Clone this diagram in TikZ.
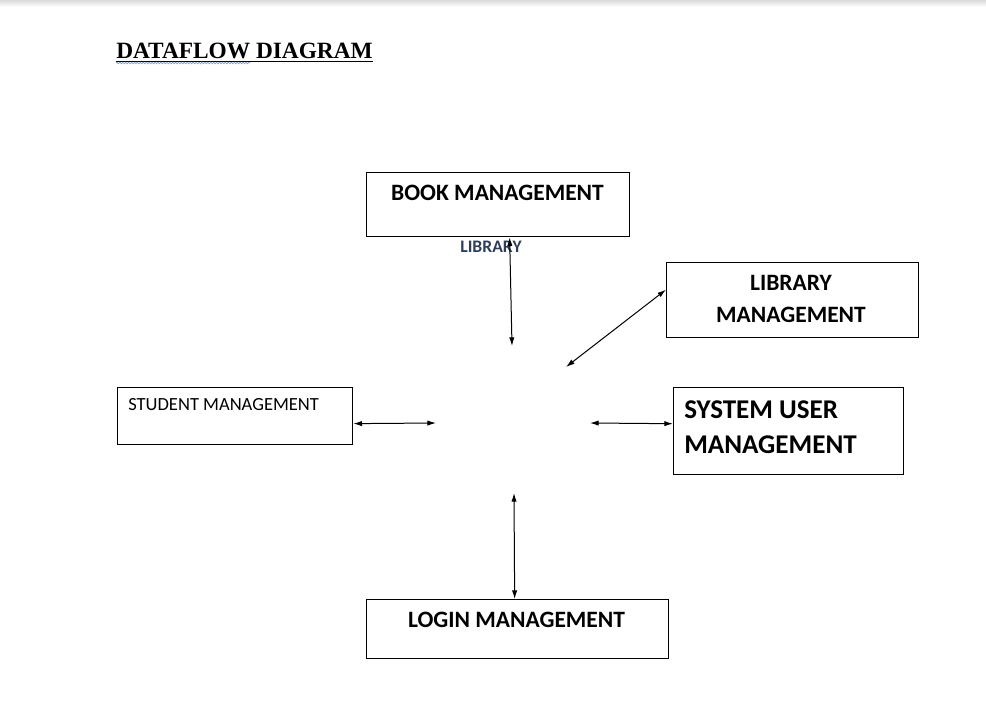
\documentclass[tikz,border=0pt]{standalone}
\usepackage{xcolor}
\usepackage{fontspec}
\usepackage{tikz}
\usetikzlibrary{arrows.meta, positioning, calc, decorations.pathmorphing}
\setmainfont{Liberation Serif}
\newfontfamily\boxfont{Carlito}
\definecolor{labelblue}{HTML}{2E3E5C}
\definecolor{spellblue}{HTML}{7C9ED8}

\begin{document}
\begin{tikzpicture}[x=0.75pt, y=-0.75pt,
  procbox/.style={draw, line width=1pt, rectangle, inner sep=0pt, anchor=north west},
  boxtext/.style={inner sep=0pt, font=\boxfont\bfseries\fontsize{17.6}{17.6}\selectfont},
  flow/.style={line width=0.75pt, {Latex[length=6.5pt,width=4pt]}-{Latex[length=6.5pt,width=4pt]}}]
  \useasboundingbox (0,0) rectangle (986,703);
  \fill[white] (0,0) rectangle (986,703);
  \shade[top color=black!14, bottom color=white] (0,0) rectangle (986,7);

  % Title
  \node[inner sep=0pt, anchor=base west, font=\bfseries\fontsize{17.5}{17.5}\selectfont] (title) at (116,58) {DATAFLOW DIAGRAM};
  \draw[line width=1.1pt] ([yshift=-2.5pt]title.base west) -- ([yshift=-2.5pt]title.base east);
  \draw[spellblue, line width=0.5pt, decorate, decoration={snake, amplitude=0.6pt, segment length=2.2pt}] (116,63) -- (250,63);

  % Boxes
  \node[procbox, minimum width=197.25pt, minimum height=48pt] (book) at (366,172) {};
  \node[procbox, minimum width=189pt, minimum height=56.25pt] (libmgmt) at (666,262) {};
  \node[procbox, minimum width=172.5pt, minimum height=65.25pt] (sysuser) at (673,387) {};
  \node[procbox, minimum width=176.25pt, minimum height=42.75pt] (student) at (117,387) {};
  \node[procbox, minimum width=226.5pt, minimum height=44.25pt] (login) at (366,599) {};

  % Box texts
  \node[boxtext, anchor=base] (booktxt) at (497.5,200) {BOOK MANAGEMENT};
  \node[boxtext, anchor=base] (libtxta) at (791,290) {LIBRARY};
  \node[boxtext, anchor=base] (libtxtb) at (791,322) {MANAGEMENT};
  \node[boxtext, anchor=base west, font=\boxfont\bfseries\fontsize{20.3}{20.3}\selectfont] (systxta) at (684,418) {SYSTEM USER};
  \node[boxtext, anchor=base west, font=\boxfont\bfseries\fontsize{20.3}{20.3}\selectfont] (systxtb) at (684,453) {MANAGEMENT};
  \node[boxtext, anchor=base west, font=\boxfont\fontsize{13.9}{13.9}\selectfont] (studtxt) at (128,410) {STUDENT MANAGEMENT};
  \node[boxtext, anchor=base] (logintxt) at (516.5,627) {LOGIN MANAGEMENT};
  \node[boxtext, anchor=base, text=labelblue, font=\boxfont\bfseries\fontsize{13.2}{13.2}\selectfont] (liblabel) at (491,252) {LIBRARY};

  % Free ends of the flows
  \coordinate (fbook) at (512,346);
  \coordinate (flib) at (566,367);
  \coordinate (fsys) at (590,423);
  \coordinate (fstud) at (436,423);
  \coordinate (flogin) at (514,493);

  % Arrows
  \draw[flow] ([xshift=8.6pt]book.south) -- (fbook);
  \draw[flow] ([yshift=7.9pt]libmgmt.west) -- (flib);
  \draw[flow] ([yshift=5.6pt]sysuser.west) -- (fsys);
  \draw[flow] ([yshift=-5.6pt]student.east) -- (fstud);
  \draw[flow] ([xshift=-2.25pt]login.north) -- (flogin);
\end{tikzpicture}
\end{document}
